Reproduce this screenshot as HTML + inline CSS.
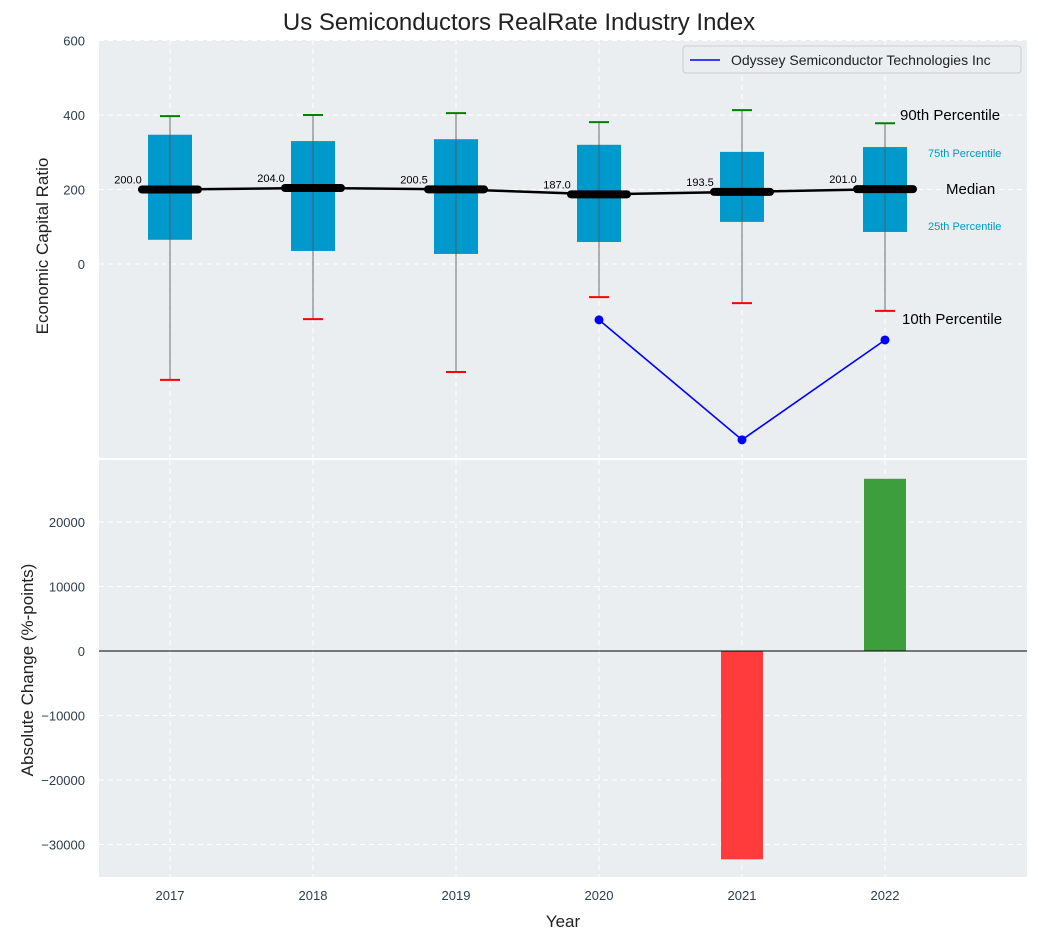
<!DOCTYPE html>
<html><head><meta charset="utf-8"><style>
body{margin:0;background:#fff;font-family:"Liberation Sans",sans-serif}
svg text{font-family:"Liberation Sans",sans-serif}
</style></head><body>
<svg id="c" width="1038" height="940"></svg>
<script>
const years=[2017,2018,2019,2020,2021,2022];
const q1=[65,35,27,59,113,86];
const q3=[347,330,335,320,301,314];
const p90=[397,400,405,381,413,378];
const p10=[-311,-148,-290,-89,-105,-126];
const med=[200,204,200.5,187,193.5,201];
const odyYears=[2020,2021,2022];
const odyVals=[-150,-472,-204];
const chgYears=[2021,2022];
const chgVals=[-32300,26700];
const topTicks=[0,200,400,600];
const botTicks=[-30000,-20000,-10000,0,10000,20000];
const NS='http://www.w3.org/2000/svg';
const svg=document.getElementById('c');
function el(t,a,p){const e=document.createElementNS(NS,t);for(const k in a)e.setAttribute(k,a[k]);(p||svg).appendChild(e);return e;}
const X=y=>98.5+(y-2016.5)*143;
const YT=v=>264-v*0.3725;
const YB=v=>651-v*0.00645;
let r=el('rect',{x:99,y:40,width:928,height:418,fill:'#eaeef0'});

r=el('rect',{x:99,y:460,width:928,height:417,fill:'#eaeef0'});

years.forEach(y=>{el('line',{x1:X(y),x2:X(y),y1:40,y2:458,stroke:'#fff','stroke-dasharray':'5,4'});el('line',{x1:X(y),x2:X(y),y1:460,y2:877,stroke:'#fff','stroke-dasharray':'5,4'});
 let t=el('text',{x:X(y),y:900,'text-anchor':'middle','font-size':13,fill:'#2d3e50'});t.textContent=y;
 });
topTicks.forEach(v=>{el('line',{x1:99,x2:1027,y1:YT(v),y2:YT(v),stroke:'#fff','stroke-dasharray':'5,4'});
 let t=el('text',{x:85,y:YT(v)+5,'text-anchor':'end','font-size':13,fill:'#2d3e50'});t.textContent=v;
 });
botTicks.forEach(v=>{el('line',{x1:99,x2:1027,y1:YB(v),y2:YB(v),stroke:'#fff','stroke-dasharray':'5,4'});
 let t=el('text',{x:85,y:YB(v)+5,'text-anchor':'end','font-size':13,fill:'#2d3e50'});t.textContent=v<0?'\u2212'+(-v):v;
 });
years.forEach((y,i)=>{const x=X(y);
 let b=el('rect',{x:x-22,y:YT(q3[i]),width:44,height:YT(q1[i])-YT(q3[i]),fill:'#0099cc'});
 
 el('line',{x1:x,x2:x,y1:YT(p90[i]),y2:YT(p10[i]),stroke:'#556',opacity:0.7,'stroke-width':1.2});
 el('line',{x1:x-10,x2:x+10,y1:YT(p90[i]),y2:YT(p90[i]),stroke:'green','stroke-width':2});
 el('line',{x1:x-10,x2:x+10,y1:YT(p10[i]),y2:YT(p10[i]),stroke:'red','stroke-width':2});
});
let pl=el('polyline',{points:years.map((y,i)=>X(y)+','+YT(med[i])).join(' '),fill:'none',stroke:'#000','stroke-width':2.5});

years.forEach((y,i)=>{const x=X(y);
 el('line',{x1:x-28,x2:x+28,y1:YT(med[i]),y2:YT(med[i]),stroke:'#000','stroke-width':8,'stroke-linecap':'round'});
 let t=el('text',{x:x-42,y:YT(med[i])-6,'text-anchor':'middle','font-size':11,fill:'#000'});t.textContent=med[i].toFixed(1);
 });
let ol=el('polyline',{points:odyYears.map((y,i)=>X(y)+','+YT(odyVals[i])).join(' '),fill:'none',stroke:'blue','stroke-width':1.6});

odyYears.forEach((y,i)=>{let c=el('circle',{cx:X(y),cy:YT(odyVals[i]),r:4.5,fill:'blue'});
 });
[['90th Percentile',900,120,15,'#000'],['75th Percentile',928,157,11,'#0099cc'],['Median',946,194,15,'#000'],['25th Percentile',928,230,11,'#0099cc'],['10th Percentile',902,324,15,'#000']].forEach(a=>{
 let t=el('text',{x:a[1],y:a[2],'font-size':a[3],fill:a[4]});t.textContent=a[0];
 });
chgYears.forEach((y,i)=>{const v=chgVals[i];
 let b=el('rect',{x:X(y)-21,y:Math.min(YB(v),YB(0)),width:42,height:Math.abs(YB(v)-YB(0)),fill:v<0?'#ff3b3b':'#3c9e3c'});
 });
el('line',{x1:99,x2:1027,y1:YB(0),y2:YB(0),stroke:'#000','stroke-width':1});
let g=el('g',{});
el('rect',{x:683,y:46,width:338,height:27,fill:'#eaeef0',stroke:'#ccc',rx:3},g);
el('line',{x1:690,x2:720,y1:60,y2:60,stroke:'blue','stroke-width':1.6},g);
let lt=el('text',{x:731,y:65,'font-size':14,fill:'#222'},g);lt.textContent='Odyssey Semiconductor Technologies Inc';
let t=el('text',{x:519,y:30,'text-anchor':'middle','font-size':24,fill:'#222'});t.textContent='Us Semiconductors RealRate Industry Index';

t=el('text',{x:563,y:927,'text-anchor':'middle','font-size':17,fill:'#222'});t.textContent='Year';

t=el('text',{x:48,y:246,'text-anchor':'middle','font-size':17,fill:'#222',transform:'rotate(-90 48 246)'});t.textContent='Economic Capital Ratio';

t=el('text',{x:33,y:670,'text-anchor':'middle','font-size':17,fill:'#222',transform:'rotate(-90 33 670)'});t.textContent='Absolute Change (%-points)';

</script>
</body></html>
